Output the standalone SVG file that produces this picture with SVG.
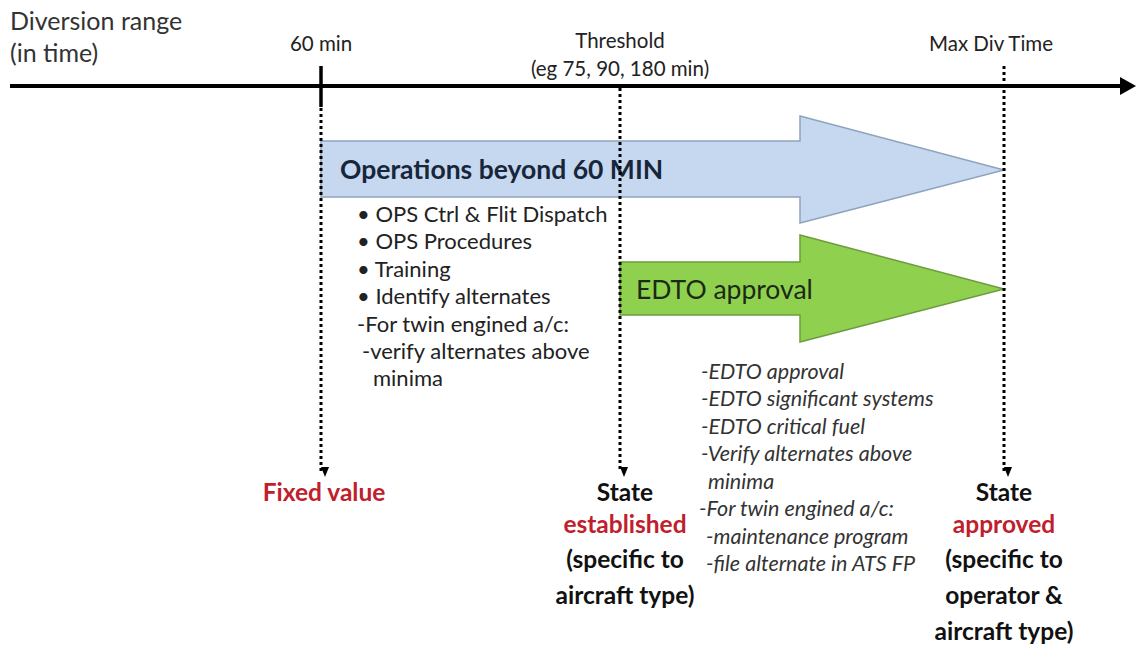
<svg xmlns="http://www.w3.org/2000/svg" width="1136" height="648" viewBox="0 0 1136 648">
<style>
text{font-family:Lato,"Open Sans","Liberation Sans",sans-serif;fill:#222}
.lab{font-size:20.5px}
.big{font-size:25px;fill:#333}
.lst{font-size:22px}
.it{font-size:21.5px;font-style:italic;fill:#333}
.st{font-size:24.5px;font-weight:bold;text-anchor:middle;fill:#111}
.red{fill:#c0202c}
.dot{stroke:#000;stroke-width:3;stroke-dasharray:3 3;fill:none}
</style>
<defs>
<marker id="ah" markerWidth="10" markerHeight="10" refX="5" refY="9" orient="auto" markerUnits="userSpaceOnUse" viewBox="0 0 10 10">
<path d="M1,0 L9,0 L5,10 Z" fill="#000" transform="rotate(-90 5 5)"/>
</marker>
</defs>
<rect width="1136" height="648" fill="#fff"/>

<g id="axis">
<line x1="10" y1="86" x2="1122" y2="86" stroke="#000" stroke-width="4"/>
<path d="M1120,77 L1136,86 L1120,95 Z" fill="#000"/>
<line x1="321" y1="66" x2="321" y2="107" stroke="#000" stroke-width="3.5"/>
<text x="10" y="30" class="big">Diversion range</text>
<text x="10" y="62" class="big">(in time)</text>
<text x="321" y="51" class="lab" text-anchor="middle">60 min</text>
<text x="620" y="48" class="lab" text-anchor="middle">Threshold</text>
<text x="620" y="76" class="lab" text-anchor="middle">(eg 75, 90, 180 min)</text>
<text x="991" y="51" class="lab" text-anchor="middle">Max Div Time</text>
</g>

<g id="ops-arrow">
<path d="M321,141 L800,141 L800,116 L1004,170 L800,223 L800,197 L321,197 Z" fill="#c6d8ef" stroke="#8ea3bd" stroke-width="1.5"/>
<text x="340" y="179" style="font-size:26.5px;font-weight:bold;fill:#17263a">Operations beyond 60 MIN</text>
</g>

<g id="ops-list">
<text x="357" y="222" class="lst">• OPS Ctrl &amp; Flit Dispatch</text>
<text x="357" y="249" class="lst">• OPS Procedures</text>
<text x="357" y="277" class="lst">• Training</text>
<text x="357" y="304" class="lst">• Identify alternates</text>
<text x="357" y="332" class="lst">-For twin engined a/c:</text>
<text x="362" y="359" class="lst">-verify alternates above</text>
<text x="373" y="386" class="lst">minima</text>
</g>

<g id="edto-arrow">
<path d="M620,262 L800,262 L800,235 L1004,289 L800,342 L800,315 L620,315 Z" fill="#8fd14f" stroke="#6d9c3e" stroke-width="1.5"/>
<text x="636" y="299" style="font-size:26.5px;fill:#1c2a14">EDTO approval</text>
</g>

<g id="edto-list">
<text x="701" y="379" class="it">-EDTO approval</text>
<text x="701" y="406" class="it">-EDTO significant systems</text>
<text x="701" y="434" class="it">-EDTO critical fuel</text>
<text x="701" y="461" class="it">-Verify alternates above</text>
<text x="708" y="489" class="it">minima</text>
<text x="699" y="516" class="it">-For twin engined a/c:</text>
<text x="706" y="544" class="it">-maintenance program</text>
<text x="706" y="571" class="it">-file alternate in ATS FP</text>
</g>

<g id="fixed-value">
<text x="324" y="501" class="st red">Fixed value</text>
</g>

<g id="state-established">
<text x="625" y="501" class="st">State</text>
<text x="625" y="533" class="st red">established</text>
<text x="625" y="568" class="st">(specific to</text>
<text x="625" y="604" class="st">aircraft type)</text>
</g>

<g id="state-approved">
<text x="1004" y="501" class="st">State</text>
<text x="1004" y="533" class="st red">approved</text>
<text x="1004" y="568" class="st">(specific to</text>
<text x="1004" y="604" class="st">operator &amp;</text>
<text x="1004" y="640" class="st">aircraft type)</text>
</g>

<g id="connectors">
<line x1="321" y1="108" x2="321" y2="472" class="dot" marker-end="url(#ah)"/>
<line x1="620" y1="88" x2="620" y2="472" class="dot" marker-end="url(#ah)"/>
<line x1="1004" y1="66" x2="1004" y2="472" class="dot" marker-end="url(#ah)"/>
</g>
</svg>
